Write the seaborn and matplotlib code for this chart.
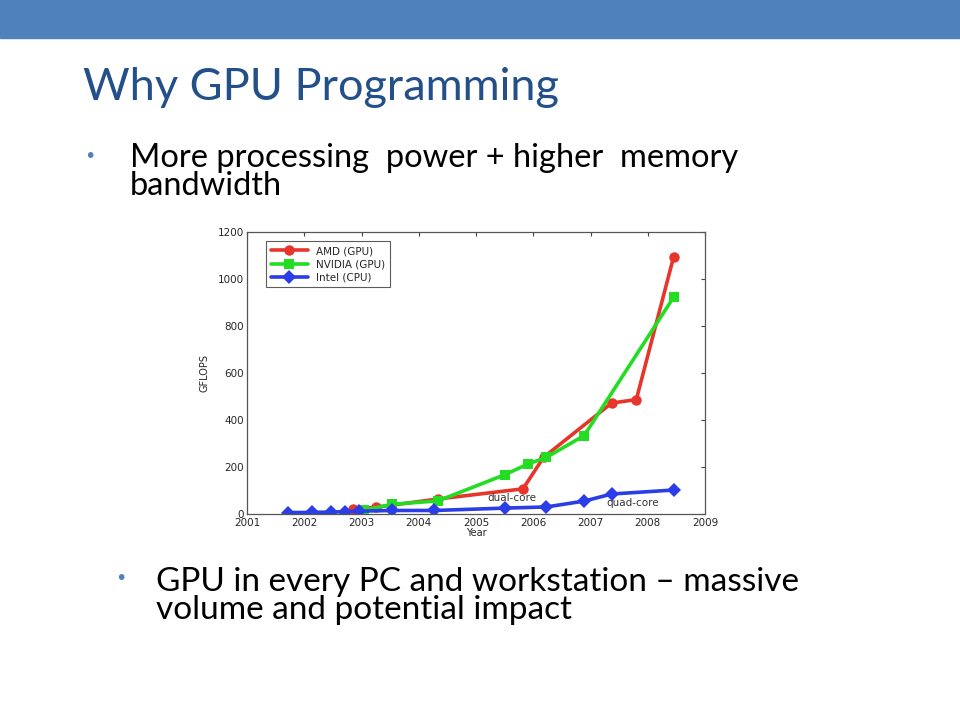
import pandas as pd
import seaborn as sns
import matplotlib.pyplot as plt
from matplotlib.patches import Rectangle

# values
amd_year = [2002.86, 2003.26, 2004.34, 2005.82, 2006.18, 2007.37, 2007.80, 2008.45]
amd_gflops = [20, 29, 64, 107, 241, 472, 487, 1092]

nv_year = [2003.05, 2003.53, 2004.34, 2005.50, 2005.91, 2006.23, 2006.89, 2008.45]
nv_gflops = [17, 41, 56, 167, 213, 241, 334, 922]

intel_year = [2001.71, 2002.14, 2002.46, 2002.71, 2002.95, 2003.53, 2004.27,
              2005.50, 2006.23, 2006.89, 2007.37, 2008.45]
intel_gflops = [6, 7, 8, 10, 12, 15, 15, 25, 30, 55, 85, 102]

series = ['AMD (GPU)', 'NVIDIA (GPU)', 'Intel (CPU)']
colors = ['#e8352b', '#22dd22', '#2b3de6']
markers = ['o', 's', 'D']

df = pd.concat([
    pd.DataFrame({'Year': amd_year, 'GFLOPS': amd_gflops, 'chip': series[0]}),
    pd.DataFrame({'Year': nv_year, 'GFLOPS': nv_gflops, 'chip': series[1]}),
    pd.DataFrame({'Year': intel_year, 'GFLOPS': intel_gflops, 'chip': series[2]}),
])

sns.set_style('white')
plt.rcParams['font.family'] = ['DejaVu Sans']

fig = plt.figure(figsize=(9.6, 7.2), dpi=100)

# slide decorations
fig.patches.append(Rectangle((0, 1 - 38 / 720), 1, 38 / 720, transform=fig.transFigure,
                             color='#4f81bd', zorder=0))
fig.text(83 / 960, 1 - 88 / 720, 'Why GPU Programming', fontsize=32.5, color='#24508a',
         family=['Lato', 'DejaVu Sans'], va='center')
fig.text(84 / 960, 1 - 156 / 720, '\u2022', fontsize=14, color='#4f81bd', va='center')
fig.text(130 / 960, 1 - 172 / 720, 'More processing  power + higher  memory\nbandwidth',
         fontsize=23.5, color='black', family=['Lato', 'DejaVu Sans'], va='center',
         linespacing=0.95)
fig.text(115 / 960, 1 - 579 / 720, '\u2022', fontsize=14, color='#4f81bd', va='center')
fig.text(156 / 960, 1 - 596 / 720, 'GPU in every PC and workstation \u2013 massive\nvolume and potential impact',
         fontsize=24, color='black', family=['Lato', 'DejaVu Sans'], va='center',
         linespacing=0.95)

ax = fig.add_axes([247 / 960, 1 - 514 / 720, 458 / 960, 282 / 720])
sns.lineplot(data=df, x='Year', y='GFLOPS', hue='chip', style='chip',
             hue_order=series, style_order=series, palette=colors,
             markers=markers, dashes=False, markersize=7.5, markeredgewidth=0,
             linewidth=2.6, ax=ax)

ax.set_xlim(2001, 2009)
ax.set_ylim(0, 1200)
ax.set_xticks(range(2001, 2010))
ax.set_yticks(range(0, 1201, 200))
ax.tick_params(direction='in', labelsize=7.5, top=True, right=True, length=3,
               color='#444444', pad=2)
ax.tick_params(axis='x', pad=3)
for s in ax.spines.values():
    s.set_color('#555555')
    s.set_linewidth(0.9)
ax.set_xlabel('Year', fontsize=7, labelpad=0)
ax.set_ylabel('GFLOPS', fontsize=7, labelpad=6)

ax.text(2005.63, 68, 'dual-core', fontsize=7.5, ha='center', va='center', color='#333333')
ax.text(2007.74, 47, 'quad-core', fontsize=7.5, ha='center', va='center', color='#333333')

leg = ax.legend(loc='upper left', bbox_to_anchor=(0.03, 0.985), fontsize=7.5,
                frameon=True, fancybox=False, borderpad=0.45, handlelength=3.6,
                labelspacing=0.3, title=None)
leg.get_frame().set_edgecolor('#333333')
leg.get_frame().set_linewidth(0.8)

fig.savefig('out.png', dpi=100)
